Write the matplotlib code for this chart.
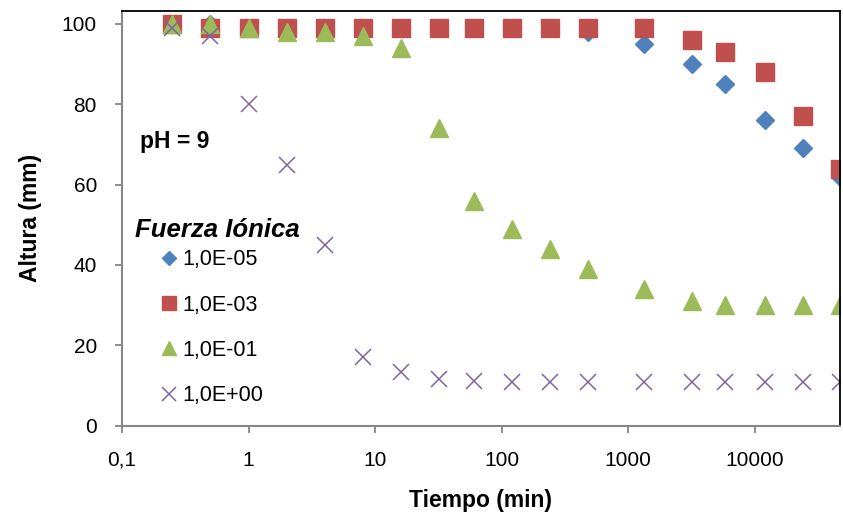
import matplotlib
matplotlib.use("Agg")
import matplotlib.pyplot as plt
from matplotlib.ticker import FixedLocator, FuncFormatter, NullLocator

plt.rcParams['font.family'] = ['Liberation Sans', 'DejaVu Sans']

tiempo = [0.25, 0.5, 1, 2, 4, 8, 16, 32, 60, 120, 240, 480, 1340, 3200, 5800, 12000, 24000, 47000]
altura_1e05 = [100, 100, 99, 99, 99, 99, 99, 99, 99, 99, 99, 98, 95, 90, 85, 76, 69, 62]
altura_1e03 = [100, 99, 99, 99, 99, 99, 99, 99, 99, 99, 99, 99, 99, 96, 93, 88, 77, 64]
altura_1e01 = [100, 100, 99, 98, 98, 97, 94, 74, 56, 49, 44, 39, 34, 31, 30, 30, 30, 30]
altura_1e00 = [99, 97, 80, 65, 45, 17, 13.3, 11.5, 11.2, 10.8, 10.8, 10.8, 10.8, 10.8, 10.8, 10.8, 10.8, 10.8]
etiquetas = ["1,0E-05", "1,0E-03", "1,0E-01", "1,0E+00"]
x_ticks = [0.1, 1, 10, 100, 1000, 10000]
y_ticks = [0, 20, 40, 60, 80, 100]

fig = plt.figure(figsize=(8.43, 5.15), dpi=100)
ax = fig.add_axes([0.1447, 0.1734, 0.8517, 0.8052])

ax.plot(tiempo, altura_1e05, linestyle='none', marker='D', markersize=9.2,
        color='#4F81BD', label=etiquetas[0])
ax.plot(tiempo, altura_1e03, linestyle='none', marker='s', markersize=13,
        color='#C0504D', label=etiquetas[1])
ax.plot(tiempo, altura_1e01, linestyle='none', marker='^', markersize=13,
        color='#9BBB59', label=etiquetas[2])
ax.plot(tiempo, altura_1e00, linestyle='none', marker='x', markersize=12,
        markeredgewidth=1.1, color='#8064A2', label=etiquetas[3])

ax.set_xscale('log')
ax.set_xlim(0.1, tiempo[-1])
ax.set_ylim(0, 103.2)
ax.xaxis.set_major_locator(FixedLocator(x_ticks))
ax.xaxis.set_minor_locator(NullLocator())
ax.yaxis.set_major_locator(FixedLocator(y_ticks))

def fmt(v, pos):
    if v < 1:
        return ("%g" % v).replace('.', ',')
    return "%d" % round(v)

ax.xaxis.set_major_formatter(FuncFormatter(fmt))
ax.tick_params(axis='both', which='major', labelsize=15, direction='out',
               length=5, width=1.3, color='#868686')
ax.tick_params(axis='x', pad=13)
ax.tick_params(axis='y', pad=13)

for s in ['left', 'bottom']:
    ax.spines[s].set_color('#868686')
    ax.spines[s].set_linewidth(1.5)
for s in ['top', 'right']:
    ax.spines[s].set_color('black')
    ax.spines[s].set_linewidth(1.3)

ax.set_xlabel('Tiempo (min)', fontsize=16.5, fontweight='bold', labelpad=14)
ax.set_ylabel('Altura (mm)', fontsize=16.5, fontweight='bold', labelpad=14)

ax.text(0.025, 0.686, 'pH = 9', transform=ax.transAxes, fontsize=16.5,
        fontweight='bold', va='center', ha='left')

ax.text(0.018, 0.472, 'Fuerza Iónica', transform=ax.transAxes, fontsize=18.5,
        fontweight='bold', fontstyle='italic', va='center', ha='left')

leg = ax.legend(loc='center left', bbox_to_anchor=(0.0565, 0.236), frameon=False,
                fontsize=15.5, handlelength=0.6, handletextpad=0.3,
                labelspacing=1.13, borderpad=0.0, borderaxespad=0.0,
                markerscale=0.8)

fig.savefig('out.png', dpi=100)
